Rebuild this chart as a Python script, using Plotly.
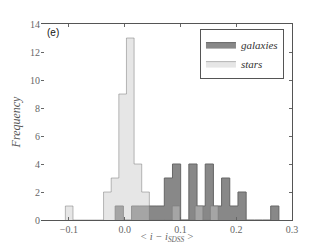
import numpy as np
import plotly.graph_objects as go

# Histogram data (20 bins each)
gal_counts = [1, 0, 1, 1, 1, 1, 3, 4, 0, 4, 1, 4, 1, 3, 1, 2, 0, 0, 0, 1]
gal_range = [-0.017, 0.2765]
star_counts = [1, 0, 0, 0, 0, 2, 3, 9, 13, 4, 2, 0, 0, 0, 1, 0, 0, 1, 0, 1]
star_range = [-0.1063, 0.1675]
x_ticks = [-0.1, 0.0, 0.1, 0.2, 0.3]
x_tick_labels = ["\u22120.1", "0.0", "0.1", "0.2", "0.3"]
y_ticks = [0, 2, 4, 6, 8, 10, 12, 14]


def step_xy(counts, rng):
    edges = np.linspace(rng[0], rng[1], len(counts) + 1)
    xs = [edges[0]] + list(edges)
    ys = [0] + list(counts) + [0]
    return xs, ys


fig = go.Figure()
gx, gy = step_xy(gal_counts, gal_range)
sx, sy = step_xy(star_counts, star_range)

fig.add_trace(go.Scatter(
    x=gx, y=gy, mode="lines", line=dict(shape="hv", color="#666666", width=1),
    fill="tozeroy", fillcolor="#888888", name="<i>galaxies</i>"))
fig.add_trace(go.Scatter(
    x=sx, y=sy, mode="lines", line=dict(shape="hv", color="rgba(120,120,120,0.5)", width=1),
    fill="tozeroy", fillcolor="rgba(201,201,201,0.46)", name="<i>stars</i>"))
# invisible trace for right axis ticks
fig.add_trace(go.Scatter(x=[0], y=[0], yaxis="y2", mode="markers",
                         marker=dict(opacity=0), showlegend=False, hoverinfo="skip"))

tickfont = dict(family="Liberation Serif", size=10, color="#666666")
# the page body adds an 8px offset at top/left; size the figure to compensate
fig.update_layout(
    width=317, height=237,
    margin=dict(l=33, r=33, t=16, b=25, autoexpand=False),
    paper_bgcolor="white", plot_bgcolor="white",
    showlegend=True,
    xaxis=dict(range=[-0.15, 0.3], tickvals=x_ticks, ticktext=x_tick_labels,
               ticks="inside", ticklen=3, tickcolor="#666666",
               showline=True, mirror="ticks", linecolor="#555555", linewidth=1,
               showgrid=False, zeroline=False, tickfont=tickfont, automargin=False),
    yaxis=dict(range=[0, 14], tickvals=y_ticks, ticks="inside", ticklen=3, tickcolor="#666666",
               showline=False, showgrid=False, zeroline=False, tickfont=tickfont, automargin=False,
               title=dict(text="<i>Frequency</i>",
                          font=dict(family="Liberation Serif", size=12, color="#555555"),
                          standoff=6)),
    yaxis2=dict(range=[0, 14], overlaying="y", side="right", tickvals=y_ticks,
                ticks="inside", ticklen=3, tickcolor="#666666", showticklabels=False,
                showline=True, linecolor="#555555", linewidth=1, showgrid=False, zeroline=False),
    legend=dict(x=0.968, y=0.974, xanchor="right", yanchor="top",
                bgcolor="white", bordercolor="#555555", borderwidth=1,
                font=dict(family="Liberation Serif", size=11, color="#333333"),
                tracegroupgap=0, itemwidth=30),
    annotations=[
        dict(text="(e)", x=0.015, y=0.995, xref="paper", yref="paper",
             xanchor="left", yanchor="top", showarrow=False,
             font=dict(family="Liberation Sans", size=10, color="#111111")),
        dict(text="<i>&lt; i \u2212 i<sub>SDSS</sub> &gt;</i>", x=0.5, y=-0.088,
             xref="paper", yref="paper", xanchor="center", yanchor="middle", showarrow=False,
             font=dict(family="Liberation Serif", size=10.5, color="#666666")),
    ],
)

fig.write_html("out.html")
